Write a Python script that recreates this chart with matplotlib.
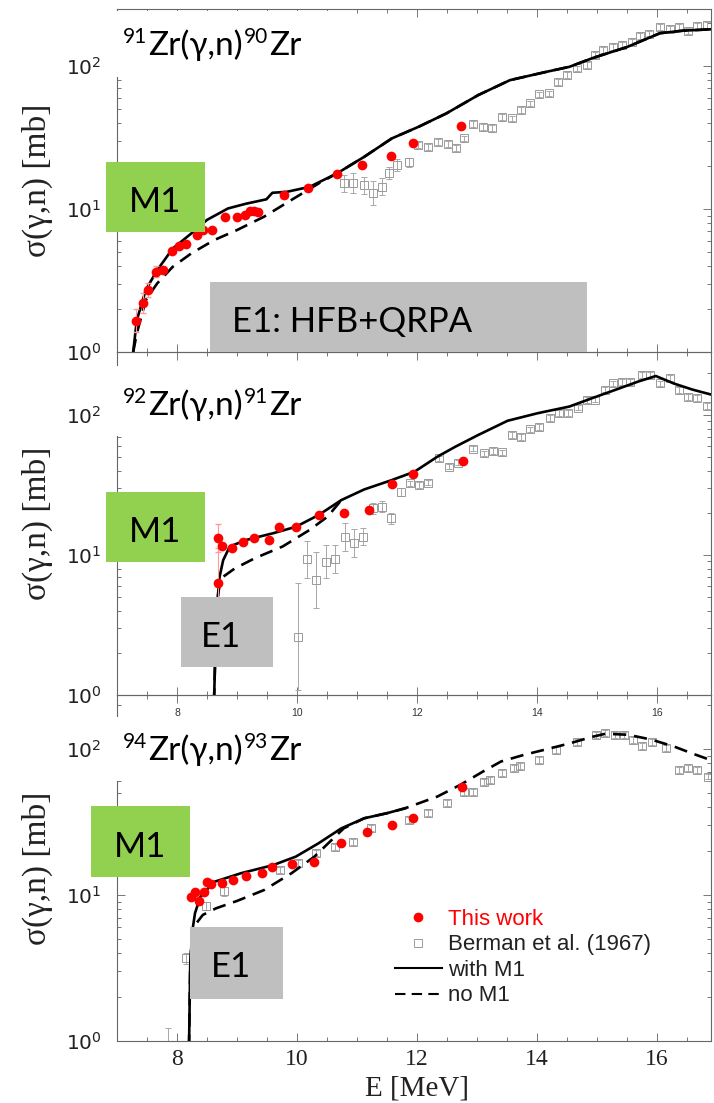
import numpy as np
import matplotlib
matplotlib.use('Agg')
import matplotlib.pyplot as plt
from matplotlib.patches import Rectangle
from matplotlib.lines import Line2D
from matplotlib.ticker import LogLocator, LogFormatterMathtext, MultipleLocator, NullFormatter

plt.rcParams['mathtext.fontset'] = 'stix'

# ---------------- data ----------------
# Panel 1: 91Zr(g,n)90Zr
p1_solid_E = [7.27, 7.33, 7.48, 7.67, 7.93, 8.24, 8.50, 8.85, 9.15, 9.49, 9.59, 9.83, 10.21, 10.67,
              11.12, 11.58, 12.03, 12.49, 13.02, 13.55, 14.16, 14.54, 14.93, 15.50, 16.05, 16.43, 16.90]
p1_solid_y = [1.0, 1.67, 2.72, 3.74, 5.3, 6.76, 8.4, 10.1, 10.9, 11.7, 13.0, 13.2, 14.3, 17.8,
              23.2, 31.2, 37.7, 46.7, 62.7, 79.8, 91.3, 98.9, 114, 136, 170, 177, 181]
p1_dash_E = [7.27, 7.33, 7.48, 7.67, 7.93, 8.24, 8.62, 9.00, 9.45, 9.91, 10.36, 10.67,
             11.12, 11.58, 12.03, 12.49, 13.02, 13.55, 14.16, 14.54, 14.93, 15.50, 16.05, 16.43, 16.90]
p1_dash_y = [1.0, 1.35, 2.31, 3.02, 3.95, 4.9, 6.07, 7.13, 8.84, 11.6, 15.1, 17.8,
             23.2, 31.2, 37.7, 46.7, 62.7, 79.8, 91.3, 98.9, 114, 136, 170, 177, 181]
p1_red_E = [7.31, 7.43, 7.52, 7.65, 7.77, 7.92, 8.03, 8.15, 8.33, 8.44, 8.59, 8.80, 9.00, 9.13,
            9.21, 9.28, 9.35, 9.79, 10.19, 10.67, 11.09, 11.56, 11.93, 12.74]
p1_red_y = [1.65, 2.19, 2.71, 3.65, 3.74, 5.11, 5.51, 5.66, 6.58, 7.13, 7.13, 8.74, 8.74, 9.08,
            9.68, 9.73, 9.53, 12.5, 14.1, 17.5, 20.5, 23.5, 28.8, 38.3]
p1_red_err = [0.08, 0.07, 0.05, 0.04, 0.0, 0.0, 0.0, 0.0, 0.0, 0.0, 0.0, 0.0, 0.0, 0.0,
              0.0, 0.0, 0.0, 0.0, 0.0, 0.0, 0.0, 0.0, 0.0, 0.0]
p1_ber_E = [10.78, 10.93, 11.11, 11.27, 11.41, 11.54, 11.67, 11.87, 12.02, 12.18, 12.35, 12.51,
            12.65, 12.79, 12.94, 13.10, 13.25, 13.41, 13.59, 13.74, 13.89, 14.04, 14.20, 14.35,
            14.50, 14.66, 14.83, 14.97, 15.10, 15.27, 15.41, 15.58, 15.72, 15.86, 16.05, 16.22,
            16.36, 16.52, 16.66, 16.83]
p1_ber_y = [15.1, 15.3, 14.7, 13.0, 14.3, 17.9, 20.3, 21.2, 28.0, 27.3, 29.6, 28.5,
            26.6, 31.2, 39.3, 37.7, 36.7, 44.2, 43.1, 49.2, 54.8, 63.4, 64.4, 77.7,
            87.0, 96.4, 101.6, 119, 129, 136, 140, 148, 162, 169, 188, 183,
            188, 176, 190, 194]
p1_ber_err = [0.06, 0.07, 0.06, 0.085, 0.06, 0.04, 0.04, 0.03] + [0.02] * 32

# Panel 2: 92Zr(g,n)91Zr
p2_solid_E = [8.617, 8.655, 8.68, 8.71, 8.77, 8.88, 9.15, 9.60, 9.98, 10.36, 10.74, 11.12, 11.58,
              11.96, 12.34, 12.64, 13.02, 13.51, 14.01, 14.54, 14.92, 15.30, 15.68, 15.98, 16.28,
              16.59, 16.93]
p2_solid_y = [0.9, 3.63, 5.04, 7.0, 9.2, 11.5, 12.8, 14.3, 15.9, 19.3, 24.7, 29.4, 34.3,
              39.4, 50.4, 59.4, 72, 91, 103, 115, 132, 151, 173, 190, 168,
              152, 139]
p2_dash_E = [8.617, 8.655, 8.69, 8.73, 8.96, 9.30, 9.76, 10.21, 10.51, 10.74]
p2_dash_y = [0.9, 3.63, 5.4, 6.8, 8.0, 9.5, 11.5, 15.1, 18.8, 24.7]
p2_red_E = [8.68, 8.69, 8.75, 8.91, 9.10, 9.29, 9.54, 9.70, 9.98, 10.36, 10.79, 11.20, 11.59,
            11.94, 12.76]
p2_red_y = [6.28, 13.3, 11.6, 11.3, 12.3, 13.3, 12.8, 15.8, 15.8, 19.2, 19.8, 21.1, 32.0,
            37.9, 46.9]
p2_red_err = [0.25, 0.1, 0.0, 0.0, 0.0, 0.0, 0.0, 0.0, 0.0, 0.0, 0.0, 0.0, 0.0, 0.0, 0.0]
p2_ber_E = [10.02, 10.17, 10.32, 10.48, 10.64, 10.80, 10.95, 11.10, 11.26, 11.42, 11.56, 11.73,
            11.88, 12.03, 12.18, 12.36, 12.53, 12.68, 12.94, 13.11, 13.26, 13.42, 13.59, 13.74,
            13.89, 14.04, 14.22, 14.37, 14.52, 14.69, 14.83, 14.97, 15.13, 15.27, 15.41, 15.55,
            15.75, 15.88, 16.05, 16.22, 16.36, 16.52, 16.66, 16.83]
p2_ber_y = [2.61, 9.31, 6.63, 8.96, 9.31, 13.4, 12.2, 13.5, 21.5, 22.2, 18.3, 28.3,
            32.5, 31.6, 32.9, 49.0, 42.8, 45.7, 57.5, 53.2, 55.3, 54.1, 72, 70,
            79, 82, 95, 103, 103, 113, 128, 129, 152, 168, 173, 173,
            193, 193, 168, 183, 151, 135, 132, 116]
p2_ber_err = [0.38, 0.13, 0.2, 0.12, 0.1, 0.1, 0.1, 0.06, 0.04, 0.04, 0.04, 0.03] + [0.02] * 32

# Panel 3: 94Zr(g,n)93Zr
p3_solid_E = [8.20, 8.22, 8.25, 8.30, 8.39, 8.62, 9.07, 9.60, 9.98, 10.36, 10.74, 11.12, 11.50, 11.80]
p3_solid_y = [0.9, 3.23, 5.46, 7.5, 9.74, 12.3, 14.1, 16.0, 18.3, 22.6, 28.6, 33.5, 36.3, 39.2]
p3_dash_E = [8.20, 8.22, 8.25, 8.28, 8.43, 8.65, 9.00, 9.45, 9.91, 10.29, 10.55, 10.78, 11.12,
             11.50, 11.80, 12.34, 12.72, 13.10, 13.40, 13.78, 14.16, 14.54, 14.92, 15.14,
             15.52, 15.90, 16.28, 16.59, 16.89]
p3_dash_y = [0.9, 3.23, 5.46, 6.07, 7.3, 8.1, 9.1, 10.8, 14.1, 18.3, 23.2, 28.6, 33.5,
             36.3, 39.2, 47.2, 56.7, 70, 82, 91, 99.5, 109, 121, 127,
             125, 116, 104, 93, 84]
p3_red_E = [8.24, 8.30, 8.37, 8.45, 8.50, 8.56, 8.75, 8.94, 9.15, 9.41, 9.58, 9.91, 10.29,
            10.73, 11.16, 11.58, 11.94, 12.75]
p3_red_y = [9.64, 10.5, 9.1, 10.4, 12.3, 11.9, 12.0, 12.7, 13.4, 14.2, 15.6, 16.2, 16.9,
            22.6, 26.9, 30.0, 33.9, 55.2]
p3_red_err = [0.0] * 18
p3_ber_E = [7.85, 8.15, 8.48, 8.78, 9.72, 10.01, 10.32, 10.64, 10.93, 11.24, 11.87, 12.18, 12.50,
            12.79, 12.94, 13.11, 13.21, 13.41, 13.61, 13.72, 14.04, 14.32, 14.67, 14.99,
            15.14, 15.30, 15.45, 15.60, 15.75, 15.92, 16.15, 16.37, 16.52, 16.66, 16.85]
p3_ber_y = [0.85, 3.68, 8.4, 10.6, 14.8, 16.5, 19.3, 21.4, 23.2, 28.9, 32.6, 36.3, 42.4,
            51.0, 51.0, 59.7, 61.3, 68, 73.8, 76.9, 84, 98.5, 112, 125,
            128, 125, 125, 115, 105, 112, 101, 71.8, 73.8, 71.8, 64.7]
p3_ber_err = [0.16, 0.04, 0.03, 0.03] + [0.02] * 31

# title pieces: (text, is_superscript)
titles = [[('91', True), ('Zr(γ,n)', False), ('90', True), ('Zr', False)],
          [('92', True), ('Zr(γ,n)', False), ('91', True), ('Zr', False)],
          [('94', True), ('Zr(γ,n)', False), ('93', True), ('Zr', False)]]
xtick_vals = [8, 10, 12, 14, 16]
xtick_labels = ['8', '10', '12', '14', '16']
legend_labels = ['This work', 'Berman et al. (1967)', 'with M1', 'no M1']
ymax_list = [251, 282, 234]

panels = [
    (p1_solid_E, p1_solid_y, p1_dash_E, p1_dash_y, p1_red_E, p1_red_y, p1_red_err, p1_ber_E, p1_ber_y, p1_ber_err),
    (p2_solid_E, p2_solid_y, p2_dash_E, p2_dash_y, p2_red_E, p2_red_y, p2_red_err, p2_ber_E, p2_ber_y, p2_ber_err),
    (p3_solid_E, p3_solid_y, p3_dash_E, p3_dash_y, p3_red_E, p3_red_y, p3_red_err, p3_ber_E, p3_ber_y, p3_ber_err),
]

# ---------------- layout ----------------
W, H = 714, 1103
fig = plt.figure(figsize=(W / 100, H / 100), dpi=100)
fig.patch.set_facecolor('white')


def fx(x):
    return x / W


def fy(y):
    return 1 - y / H


ax_px = [(9, 352), (352, 695), (695, 1041)]
X0, X1 = 117, 711
SERIF = ['Liberation Serif', 'DejaVu Serif']
SANS = ['Liberation Sans', 'DejaVu Sans']
SLIDE = ['Lato', 'DejaVu Sans']

axes = []
for i, (top, bot) in enumerate(ax_px):
    ax = fig.add_axes([fx(X0), fy(bot), (X1 - X0) / W, (bot - top) / H])
    ax.patch.set_alpha(0)
    sE, sy, dE, dy, rE, ry, rerr, bE, by, berr = panels[i]
    by = np.array(by)
    be = np.array(berr)
    lo = by - by / 10 ** be
    hi = by * 10 ** be - by
    ax.errorbar(bE, by, yerr=[lo, hi], fmt='s', ms=6, mfc='none', mec='#9a9a9a', mew=0.7,
                ecolor='#a8a8a8', elinewidth=0.7, capsize=2, capthick=0.7, zorder=2)
    ax.plot(dE, dy, color='black', lw=1.9, ls=(0, (5, 3)), zorder=3)
    ax.plot(sE, sy, color='black', lw=1.9, zorder=3)
    ry = np.array(ry)
    re = np.array(rerr)
    ax.errorbar(rE, ry, yerr=[ry - ry / 10 ** re, ry * 10 ** re - ry], fmt='none',
                ecolor='#ff9a9a', elinewidth=0.8, capsize=2, zorder=3.5)
    ax.plot(rE, ry, 'o', color='red', ms=7, mec='none', zorder=4)

    ax.set_yscale('log')
    ax.set_xlim(7, (X1 - 117) / 60 + 7)
    ax.set_ylim(1, ymax_list[i])
    ax.set_xticks(xtick_vals)
    ax.xaxis.set_minor_locator(MultipleLocator(0.5))
    ax.yaxis.set_major_locator(LogLocator(base=10))
    ax.yaxis.set_minor_locator(LogLocator(base=10, subs=range(2, 10)))
    ax.yaxis.set_minor_formatter(NullFormatter())
    ax.yaxis.set_major_formatter(LogFormatterMathtext())
    ax.tick_params(which='both', direction='in', top=True, right=True, color='#777777', width=0.7)
    ax.tick_params(which='major', length=6)
    ax.tick_params(which='minor', length=3)
    ax.tick_params(axis='y', labelsize=14.5, pad=11, labelcolor='#222222')
    for sp in ax.spines.values():
        sp.set_color('#666666')
        sp.set_linewidth(0.8)
    if i == 0:
        ax.set_xticklabels([])
    elif i == 1:
        ax.set_xticklabels(xtick_labels, fontsize=7.5, family=SANS, color='#333333')
        ax.tick_params(axis='x', pad=9)
    else:
        ax.set_xticklabels(xtick_labels, fontsize=17, family=SERIF, color='#222222')
        ax.tick_params(axis='x', pad=6)
    axes.append(ax)

    fig.text(fx(37), fy((top + bot) / 2), 'σ(γ,n) [mb]', rotation=90, ha='center', va='center',
             fontsize=24, family=SERIF, color='#222222')

fig.text(fx(417), fy(1088), 'E [MeV]', ha='center', va='center', fontsize=21, family=SERIF,
         color='#222222')

# white covers over title regions (as in the reference slide)
covers = [(113, 11, 330, 77), (113, 366, 330, 436), (113, 717, 330, 781)]
for (x0, y0, x1, y1) in covers:
    fig.add_artist(Rectangle((fx(x0), fy(y1)), (x1 - x0) / W, (y1 - y0) / H,
                             transform=fig.transFigure, facecolor='white', edgecolor='none', zorder=4))

# titles composed from pieces (superscript mass numbers)
renderer = fig.canvas.get_renderer()
title_pos = [(123, 55), (123, 415), (123, 760)]
for (x, y), parts in zip(title_pos, titles):
    cx = x
    for txt, sup in parts:
        fs = 15 if sup else 24
        yy = y - 12 if sup else y
        t = fig.text(fx(cx), fy(yy), txt, ha='left', va='baseline', fontsize=fs, family=SLIDE,
                     color='black', zorder=7)
        cx += t.get_window_extent(renderer).width + 1

# coloured annotation boxes
m1_boxes = [(106, 162, 205, 232), (106, 492, 205, 562), (91, 806, 190, 877)]
m1_text = [(155, 212), (155, 542), (140, 857)]
e1_boxes = [(210, 282, 587, 352), (181, 597, 273, 667), (190, 927, 283, 999)]
for (x0, y0, x1, y1), (tx, ty) in zip(m1_boxes, m1_text):
    fig.add_artist(Rectangle((fx(x0), fy(y1)), (x1 - x0) / W, (y1 - y0) / H,
                             transform=fig.transFigure, facecolor='#92D050', edgecolor='none', zorder=5))
    fig.text(fx(tx), fy(ty), 'M1', ha='center', va='baseline', fontsize=25, family=SLIDE, zorder=7)
for (x0, y0, x1, y1) in e1_boxes:
    fig.add_artist(Rectangle((fx(x0), fy(y1)), (x1 - x0) / W, (y1 - y0) / H,
                             transform=fig.transFigure, facecolor='#BFBFBF', edgecolor='none', zorder=5))
fig.text(fx(232), fy(332), 'E1: HFB+QRPA', ha='left', va='baseline', fontsize=25, family=SLIDE, zorder=7)
fig.text(fx(221), fy(647), 'E1', ha='center', va='baseline', fontsize=25, family=SLIDE, zorder=7)
fig.text(fx(231), fy(977), 'E1', ha='center', va='baseline', fontsize=25, family=SLIDE, zorder=7)

# legend
handles = [Line2D([], [], ls='none', marker='o', color='red', ms=7, mec='none'),
           Line2D([], [], ls='none', marker='s', mfc='none', mec='#9a9a9a', ms=6, mew=0.7),
           Line2D([], [], color='black', lw=1.5),
           Line2D([], [], color='black', lw=1.5, ls=(0, (5, 3)))]
leg = axes[2].legend(handles, legend_labels, loc='upper left', bbox_to_anchor=(fx(395), fy(909)),
                     bbox_transform=fig.transFigure, frameon=False, borderpad=0, borderaxespad=0,
                     handlelength=2.1, handletextpad=0.3, labelspacing=0.2,
                     prop={'family': SANS, 'size': 16})
for k, txt in enumerate(leg.get_texts()):
    txt.set_color('red' if k == 0 else '#222222')

fig.savefig('out.png', dpi=100, facecolor='white')
